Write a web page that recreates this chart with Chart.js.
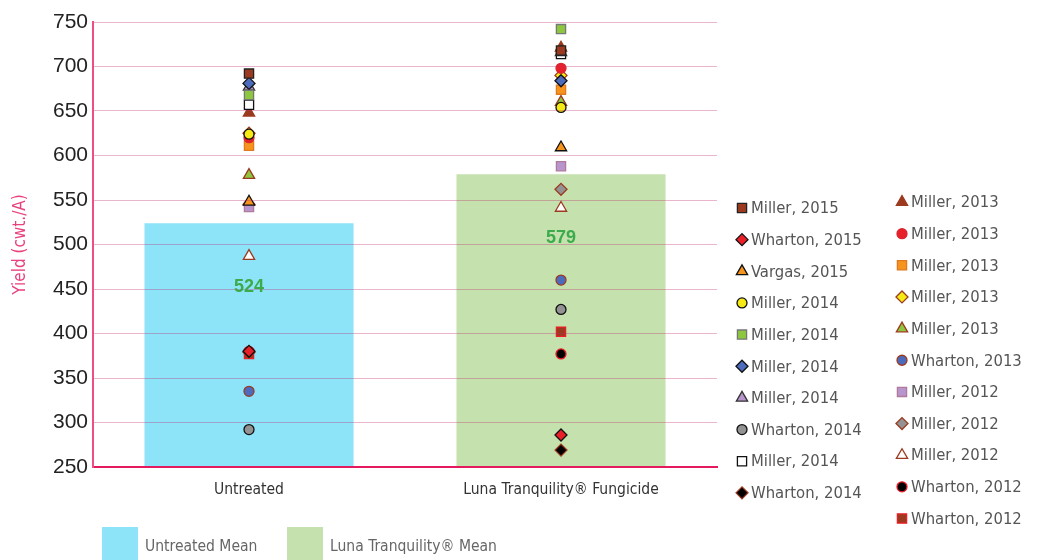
<!DOCTYPE html>
<html>
<head>
<meta charset="utf-8">
<script src="https://cdn.jsdelivr.net/npm/chart.js@4/dist/chart.umd.min.js"></script>
<style>
  html, body { margin: 0; padding: 0; background: #fff; }
  #wrap { width: 1038px; height: 560px; position: relative; }
</style>
</head>
<body>
<div id="wrap"><canvas id="chartYield"></canvas></div>
<script>
var treatments = ['Untreated', 'Luna Tranquility® Fungicide'];
var meanLabels = ['Untreated Mean', 'Luna Tranquility® Mean'];
var means = [524, 579];

var trials = ['Miller, 2015', 'Wharton, 2015', 'Vargas, 2015', 'Miller, 2014', 'Miller, 2014',
  'Miller, 2014', 'Miller, 2014', 'Wharton, 2014', 'Miller, 2014', 'Wharton, 2014',
  'Miller, 2013', 'Miller, 2013', 'Miller, 2013', 'Miller, 2013', 'Miller, 2013',
  'Wharton, 2013', 'Miller, 2012', 'Miller, 2012', 'Miller, 2012', 'Wharton, 2012', 'Wharton, 2012'];
var untreatedYield = [692, 380, 548, 624, 668, 681, 677, 292, 657, 379, 648, 620, 611, 625, 578, 335, 542, 545, 487, 380, 377];
var treatedYield = [718, 286, 609, 654, 742, 684, 716, 427, 714, 269, 721, 698, 674, 690, 660, 460, 588, 562, 541, 377, 402];

var shapes = ['rect', 'rectRot', 'triangle', 'circle', 'rect', 'rectRot', 'triangle', 'circle', 'rect', 'rectRot',
  'triangle', 'circle', 'rect', 'rectRot', 'triangle', 'circle', 'rect', 'rectRot', 'triangle', 'circle', 'rect'];
var fills = ['#9c3a1f', '#e8202a', '#f7941d', '#f5ea14', '#8dc63f', '#4c6bbd', '#b895cc', '#939393', '#ffffff', '#000000',
  '#9c3a1f', '#e8202a', '#f7941d', '#f5ea14', '#8dc63f', '#4c6bbd', '#b895cc', '#939393', '#ffffff', '#000000', '#9c3a1f'];
var borders = ['#222222', '#111111', '#111111', '#111111', '#777777', '#111111', '#333333', '#111111', '#111111', '#9c3a1f',
  '#9c3a1f', '#d8262e', '#e07a20', '#9c3a1f', '#9c3a1f', '#9c3a1f', '#b07a9a', '#9c3a1f', '#9c3a1f', '#ee1c25', '#ee1c25'];

var meanColors = ['#8de3f7', '#c5e2ae'];

var narrow = '"DejaVu Sans Condensed", "Liberation Sans", sans-serif';

function radiusFor(shape) {
  if (shape === 'circle') return 5;
  if (shape === 'rectRot') return 6;
  return 6.5;
}

var datasets = [];
for (var i = 0; i < trials.length; i++) {
  datasets.push({
    type: 'line',
    label: trials[i],
    data: [untreatedYield[i], treatedYield[i]],
    showLine: false,
    pointStyle: shapes[i],
    pointRadius: radiusFor(shapes[i]),
    pointHoverRadius: radiusFor(shapes[i]),
    pointBackgroundColor: fills[i],
    pointBorderColor: borders[i],
    pointBorderWidth: 1.3,
    order: 1
  });
}
datasets.push({
  type: 'bar',
  label: meanLabels[0],
  data: [means[0], null],
  backgroundColor: meanColors[0],
  grouped: false,
  order: 10
});
datasets.push({
  type: 'bar',
  label: meanLabels[1],
  data: [null, means[1]],
  backgroundColor: meanColors[1],
  grouped: false,
  order: 10
});

var customLegends = {
  id: 'customLegends',
  afterDraw: function(chart) {
    var ctx = chart.ctx;
    ctx.save();
    // mean values on bars
    ctx.font = 'bold 18px "Liberation Sans", Arial, sans-serif';
    ctx.fillStyle = '#3bab4b';
    ctx.textAlign = 'center';
    ctx.textBaseline = 'middle';
    for (var d = trials.length; d < trials.length + 2; d++) {
      var meta = chart.getDatasetMeta(d);
      meta.data.forEach(function(bar, idx) {
        var v = chart.data.datasets[d].data[idx];
        if (v === null) return;
        ctx.fillText(String(v), bar.x, bar.y + 64);
      });
    }
    // side legend, two columns
    ctx.textAlign = 'left';
    ctx.font = '16.5px ' + narrow;
    for (var i = 0; i < trials.length; i++) {
      var col = i < 10 ? 0 : 1;
      var row = col === 0 ? i : i - 10;
      var x = col === 0 ? 742 : 902;
      var y = (col === 0 ? 208 : 202) + row * 31.65;
      ctx.fillStyle = fills[i];
      ctx.strokeStyle = borders[i];
      ctx.lineWidth = 1.3;
      Chart.helpers.drawPoint(ctx, {
        pointStyle: shapes[i], radius: radiusFor(shapes[i]), borderWidth: 1.3, rotation: 0
      }, x, y);
      ctx.fillStyle = '#555555';
      ctx.fillText(trials[i], x + 9, y + 1);
    }
    // bottom legend for the means
    ctx.font = '15.5px ' + narrow;
    var boxX = [102, 287];
    for (var k = 0; k < 2; k++) {
      ctx.fillStyle = meanColors[k];
      ctx.fillRect(boxX[k], 527, 36, 40);
      ctx.fillStyle = '#666666';
      ctx.fillText(meanLabels[k], boxX[k] + 43, 547);
    }
    ctx.restore();
  }
};

var ctxYield = document.getElementById('chartYield').getContext('2d');

var configYield = {
  type: 'bar',
  data: {
    labels: treatments,
    datasets: datasets
  },
  options: {
    responsive: true,
    maintainAspectRatio: false,
    animation: false,
    layout: {
      padding: { left: 0, top: 22, right: 321, bottom: 53 }
    },
    plugins: {
      legend: { display: false },
      tooltip: { enabled: false }
    },
    datasets: {
      bar: { barPercentage: 1, categoryPercentage: 0.67 }
    },
    scales: {
      x: {
        grid: { display: false },
        border: { display: true, color: '#e5195e', width: 2, z: 2 },
        ticks: { color: '#333333', font: { family: narrow, size: 15.5 }, padding: 6 },
        afterFit: function(scale) { scale.height = 40; }
      },
      y: {
        min: 250,
        max: 750,
        grid: { color: 'rgba(190, 40, 110, 0.34)', z: 1, drawTicks: false },
        border: { display: true, color: '#ee4d86', width: 2, z: 2 },
        ticks: {
          stepSize: 50,
          color: '#222222',
          padding: 5,
          font: { family: '"Liberation Sans", Arial, sans-serif', size: 21 }
        },
        title: {
          display: true,
          text: 'Yield (cwt./A)',
          color: '#e8417f',
          font: { family: narrow, size: 17 },
          padding: { top: 10, bottom: 0 }
        },
        afterFit: function(scale) { scale.width = 93; }
      }
    }
  },
  plugins: [customLegends]
};

var chartYield = new Chart(ctxYield, configYield);
</script>
</body>
</html>
